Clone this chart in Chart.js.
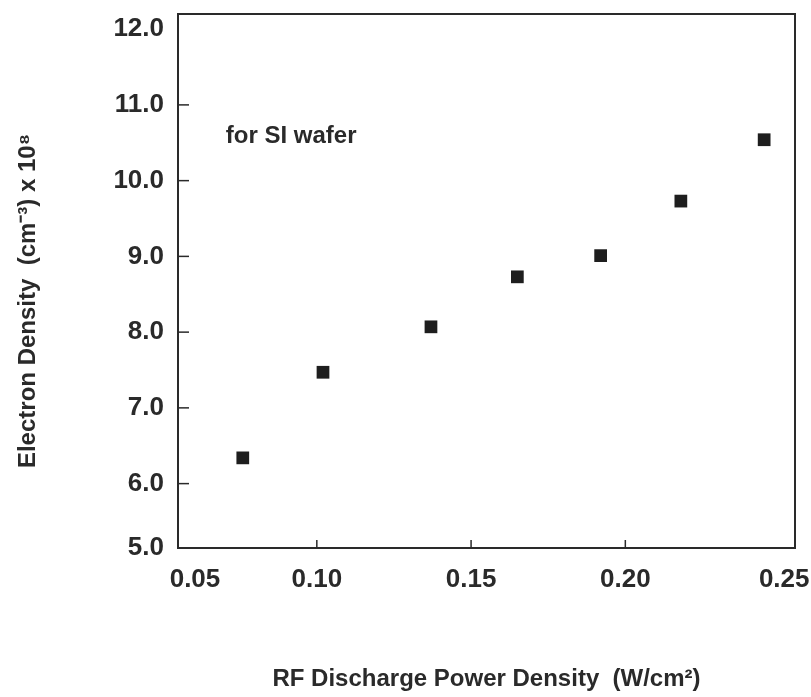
<!DOCTYPE html>
<html>
<head>
<meta charset="utf-8">
<script src="https://cdn.jsdelivr.net/npm/chart.js@4"></script>
<style>
  html, body { margin: 0; padding: 0; background: #fff; }
  #wrap { width: 811px; height: 697px; }
</style>
</head>
<body>
<div id="wrap"><canvas id="densityChart" width="811" height="697"></canvas></div>
<script>
// RF power density (W/cm^2) vs electron density (x 10^8 cm^-3), Si wafer
const powerDensity = [0.076, 0.102, 0.137, 0.165, 0.192, 0.218, 0.245];
const electronDensity = [6.34, 7.47, 8.07, 8.73, 9.01, 9.73, 10.54];
const xTickValues = [0.0605, 0.10, 0.15, 0.20, 0.2515];
const yTickValues = [5.15, 6, 7, 8, 9, 10, 11, 12];

const FONT = '"Liberation Sans", Arial, Helvetica, sans-serif';
const INK = '#2a2a2a';

// frame, inward tick marks and the note text
const framePlugin = {
    id: 'frame',
    afterDraw(chart) {
        const { ctx, chartArea: a, scales } = chart;
        ctx.save();
        ctx.strokeStyle = INK;
        ctx.lineWidth = 2;
        ctx.strokeRect(a.left, a.top, a.right - a.left, a.bottom - a.top);

        ctx.lineWidth = 1.5;
        const yt = scales.y.ticks;
        yt.forEach(function(t, i) {
            if (i === 0 || i === yt.length - 1) return;
            const py = scales.y.getPixelForValue(t.value);
            ctx.beginPath();
            ctx.moveTo(a.left, py);
            ctx.lineTo(a.left + 11, py);
            ctx.stroke();
        });
        const xt = scales.x.ticks;
        xt.forEach(function(t, i) {
            if (i === 0 || i === xt.length - 1) return;
            const px = scales.x.getPixelForValue(t.value);
            ctx.beginPath();
            ctx.moveTo(px, a.bottom);
            ctx.lineTo(px, a.bottom - 8);
            ctx.stroke();
        });

        ctx.fillStyle = INK;
        ctx.font = 'bold 24px ' + FONT;
        ctx.textBaseline = 'middle';
        ctx.fillText('for SI wafer', scales.x.getPixelForValue(0.0705), scales.y.getPixelForValue(10.58));
        ctx.restore();
    }
};

const ctx = document.getElementById('densityChart').getContext('2d');
const densityChart = new Chart(ctx, {
    type: 'scatter',
    data: {
        datasets: [{
            data: powerDensity.map(function(x, i) { return { x: x, y: electronDensity[i] }; }),
            pointStyle: 'rect',
            pointRadius: 9,
            pointHoverRadius: 9,
            backgroundColor: '#1e1e1e',
            borderColor: '#1e1e1e',
            borderWidth: 0
        }]
    },
    options: {
        responsive: false,
        animation: false,
        layout: { padding: { top: 14, right: 16, left: 0, bottom: 0 } },
        plugins: {
            legend: { display: false },
            tooltip: { enabled: false }
        },
        scales: {
            x: {
                type: 'linear',
                min: 0.055,
                max: 0.255,
                afterBuildTicks: function(scale) {
                    scale.ticks = xTickValues.map(function(v) { return { value: v }; });
                },
                afterFit: function(scale) {
                    scale.height = 149;
                    scale.paddingLeft = 0;
                    scale.paddingRight = 0;
                },
                grid: { display: false, drawTicks: false },
                border: { display: false },
                ticks: {
                    padding: 16,
                    color: INK,
                    font: { family: FONT, size: 26, weight: 'bold' },
                    callback: function(v) { return (Math.round(v * 20) / 20).toFixed(2); }
                },
                title: {
                    display: true,
                    text: 'RF Discharge Power Density  (W/cm²)',
                    color: INK,
                    font: { family: FONT, size: 24, weight: 'bold' },
                    padding: { top: 0, bottom: 3 }
                }
            },
            y: {
                type: 'linear',
                min: 5.15,
                max: 12.2,
                afterBuildTicks: function(scale) {
                    scale.ticks = yTickValues.map(function(v) { return { value: v }; });
                },
                afterFit: function(scale) {
                    scale.width = 178;
                    scale.paddingTop = 0;
                    scale.paddingBottom = 0;
                },
                grid: { display: false, drawTicks: false },
                border: { display: false },
                ticks: {
                    padding: 14,
                    color: INK,
                    font: { family: FONT, size: 26, weight: 'bold' },
                    callback: function(v) { return (Math.round(v)).toFixed(1); }
                },
                title: {
                    display: true,
                    text: 'Electron Density  (cm⁻³) x 10⁸      ',
                    color: INK,
                    font: { family: FONT, size: 24, weight: 'bold' },
                    padding: { top: 14, bottom: 0 }
                }
            }
        }
    },
    plugins: [framePlugin]
});
</script>
</body>
</html>
